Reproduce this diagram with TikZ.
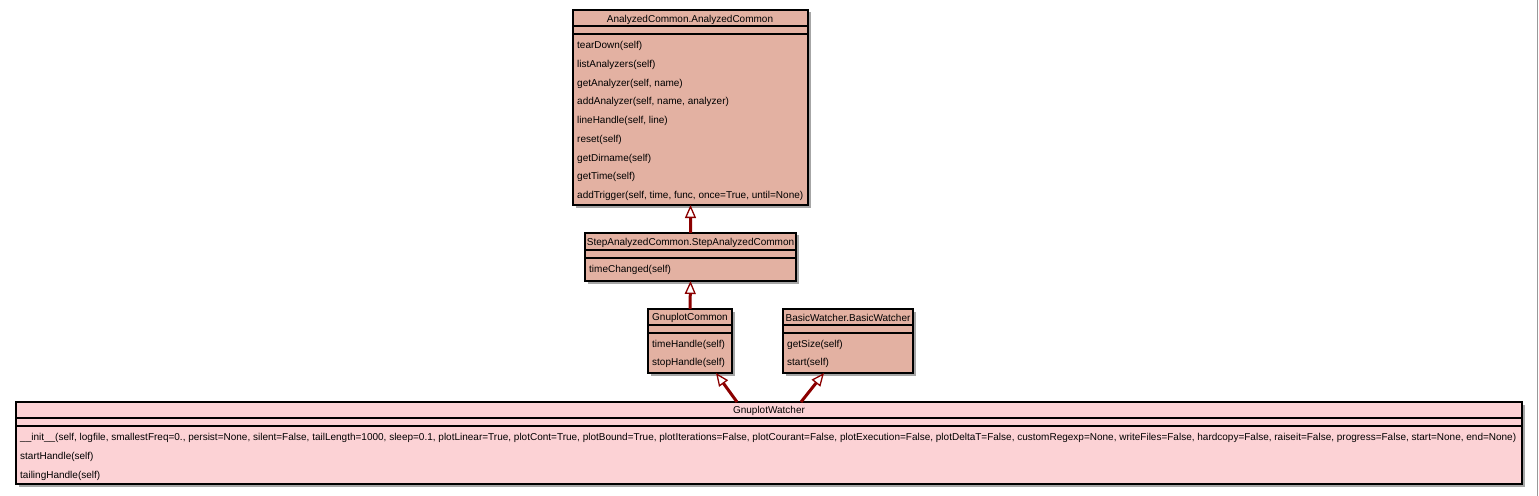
\documentclass[tikz,border=0pt]{standalone}
\usepackage{fontspec}
\setmainfont{Liberation Sans}
\usetikzlibrary{arrows.meta,shadows}
\definecolor{clsfill}{RGB}{227,177,162}
\definecolor{leaffill}{RGB}{252,210,213}
\definecolor{arr}{RGB}{139,0,0}
\begin{document}
\begin{tikzpicture}[x=1bp,y=-1bp,
  cls/.style={draw=black,line width=1.2bp,fill=clsfill,rectangle,inner sep=0pt,outer sep=0pt,anchor=north west,
    drop shadow={shadow xshift=2.5bp,shadow yshift=-2.5bp,fill=black!35,opacity=1}},
  leaf/.style={cls,fill=leaffill},
  sep/.style={line width=1.2bp,draw=black},
  meth/.style={anchor=west,inner sep=0pt,font=\fontsize{10bp}{12bp}\selectfont},
  head/.style={anchor=center,inner sep=0pt,font=\fontsize{10bp}{12bp}\selectfont},
  inherit/.style={draw=arr,line width=3bp,-{Triangle[length=13bp,width=11bp,fill=white,line width=1.3bp]}}
]
\useasboundingbox (0,0) rectangle (1539,496);
\fill[white] (0,0) rectangle (1539,496);
\draw[black!40,line width=1.5bp] (1537.5,0) -- (1537.5,496);

% AnalyzedCommon
\node[cls,minimum width=235bp,minimum height=195bp] (ac) at (573,10) {};
\draw[sep] ([yshift=-16bp]ac.north west) -- ([yshift=-16bp]ac.north east);
\draw[sep] ([yshift=-24bp]ac.north west) -- ([yshift=-24bp]ac.north east);
\node[head] (acT) at (690,19.5) {AnalyzedCommon.AnalyzedCommon};
\node[meth] (ac1) at (577,46) {tearDown(self)};
\node[meth] (ac2) at (577,64.75) {listAnalyzers(self)};
\node[meth] (ac3) at (577,83.5) {getAnalyzer(self, name)};
\node[meth] (ac4) at (577,102.25) {addAnalyzer(self, name, analyzer)};
\node[meth] (ac5) at (577,121) {lineHandle(self, line)};
\node[meth] (ac6) at (577,139.75) {reset(self)};
\node[meth] (ac7) at (577,158.5) {getDirname(self)};
\node[meth] (ac8) at (577,177.25) {getTime(self)};
\node[meth] (ac9) at (577,196) {addTrigger(self, time, func, once=True, until=None)};

% StepAnalyzedCommon
\node[cls,minimum width=211bp,minimum height=48bp] (sac) at (585,233) {};
\draw[sep] ([yshift=-17bp]sac.north west) -- ([yshift=-17bp]sac.north east);
\draw[sep] ([yshift=-25bp]sac.north west) -- ([yshift=-25bp]sac.north east);
\node[head] (sacT) at (690.5,243) {StepAnalyzedCommon.StepAnalyzedCommon};
\node[meth] (sac1) at (589,270) {timeChanged(self)};

% GnuplotCommon
\node[cls,minimum width=84bp,minimum height=64bp] (gc) at (648,309) {};
\draw[sep] ([yshift=-16bp]gc.north west) -- ([yshift=-16bp]gc.north east);
\draw[sep] ([yshift=-24bp]gc.north west) -- ([yshift=-24bp]gc.north east);
\node[head] (gcT) at (690,318) {GnuplotCommon};
\node[meth] (gc1) at (652,344.5) {timeHandle(self)};
\node[meth] (gc2) at (652,363.25) {stopHandle(self)};

% BasicWatcher
\node[cls,minimum width=130bp,minimum height=64bp] (bw) at (783,309) {};
\draw[sep] ([yshift=-16bp]bw.north west) -- ([yshift=-16bp]bw.north east);
\draw[sep] ([yshift=-24bp]bw.north west) -- ([yshift=-24bp]bw.north east);
\node[head] (bwT) at (848,318) {BasicWatcher.BasicWatcher};
\node[meth] (bw1) at (787,344.5) {getSize(self)};
\node[meth] (bw2) at (787,363.25) {start(self)};

% GnuplotWatcher
\node[leaf,minimum width=1506bp,minimum height=82bp] (gw) at (16,402) {};
\draw[sep] ([yshift=-16bp]gw.north west) -- ([yshift=-16bp]gw.north east);
\draw[sep] ([yshift=-24bp]gw.north west) -- ([yshift=-24bp]gw.north east);
\node[head] (gwT) at (769,411) {GnuplotWatcher};
\node[meth] (gw1) at (20,438) {\_\_init\_\_(self, logfile, smallestFreq=0., persist=None, silent=False, tailLength=1000, sleep=0.1, plotLinear=True, plotCont=True, plotBound=True, plotIterations=False, plotCourant=False, plotExecution=False, plotDeltaT=False, customRegexp=None, writeFiles=False, hardcopy=False, raiseit=False, progress=False, start=None, end=None)};
\node[meth] (gw2) at (20,456.75) {startHandle(self)};
\node[meth] (gw3) at (20,475.5) {tailingHandle(self)};

% inheritance connectors
\coordinate (gwL) at (737,402);
\coordinate (gcB) at (716,373);
\coordinate (gwR) at (801,402);
\coordinate (bwB) at (824,373);
\draw[inherit] (sac.north) -- (ac.south);
\draw[inherit] (gc.north) -- (sac.south);
\draw[inherit] (gwL) -- (gcB);
\draw[inherit] (gwR) -- (bwB);
\end{tikzpicture}
\end{document}
